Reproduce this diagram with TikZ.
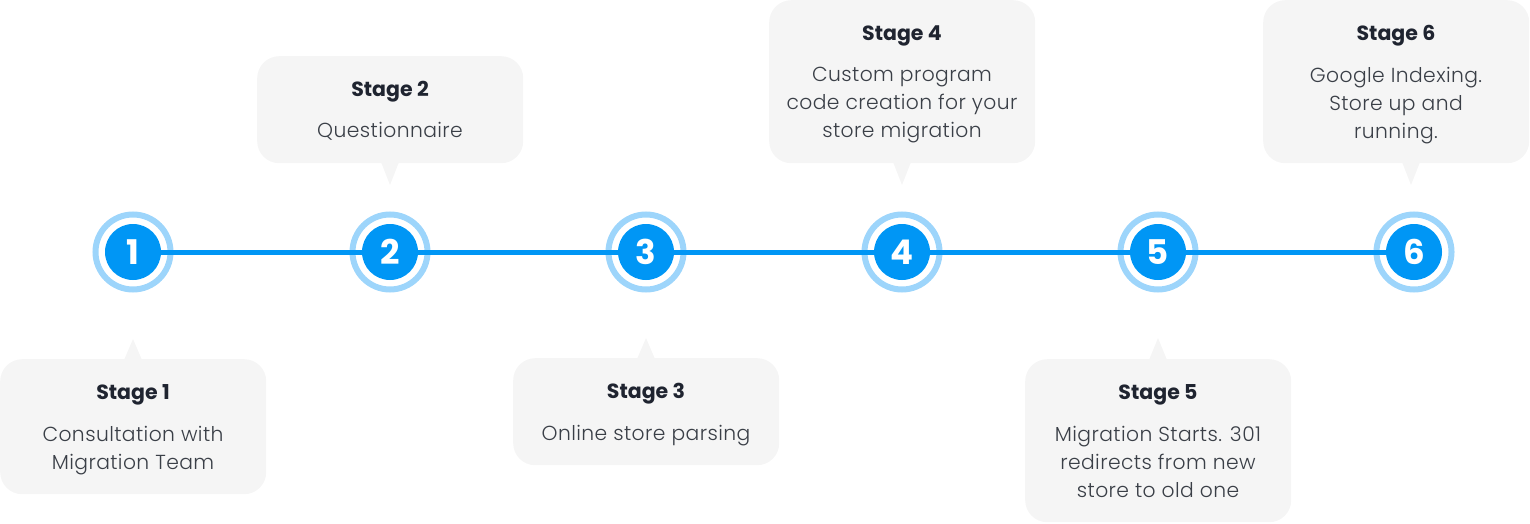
\documentclass[tikz,border=0pt]{standalone}
\usepackage{fontspec}
\setmainfont{Poppins}[UprightFont=* Light, BoldFont=* Bold]
\newfontfamily\bodyfont{Poppins}[UprightFont=* Light, LetterSpace=2]
\newfontfamily\numfont{Poppins}[UprightFont=* Bold]
\definecolor{boxbg}{HTML}{F5F5F5}
\definecolor{ttl}{HTML}{1F2430}
\definecolor{bodytxt}{HTML}{3A3F47}
\definecolor{mainblue}{HTML}{0096F5}
\definecolor{ringblue}{HTML}{9DD5FB}
\tikzset{
  bubble/.style={fill=boxbg, rounded corners=22pt, minimum width=266pt, inner sep=0pt, draw=none},
  ttlnode/.style={font=\fontsize{20.5}{24}\selectfont\bfseries, text=ttl, inner sep=0pt},
  bodynode/.style={font=\bodyfont\fontsize{20.3}{28}\selectfont, text=bodytxt, align=center, inner sep=0pt, anchor=north},
  ring/.style={draw=ringblue, line width=6pt, circle, minimum size=75pt, inner sep=0pt},
  dot/.style={fill=mainblue, circle, minimum size=56pt, inner sep=0pt, text=white, font=\fontsize{34}{34}\numfont},
  tline/.style={draw=mainblue, line width=5pt}
}
\begin{document}
\begin{tikzpicture}[x=1pt,y=-1pt]
\useasboundingbox (0,0) rectangle (1530,524);
% bubbles
\node[bubble, minimum height=135pt, anchor=north west] (b1) at (0,359) {};
\node[bubble, minimum height=107pt, anchor=north west] (b2) at (257,56) {};
\node[bubble, minimum height=107pt, anchor=north west] (b3) at (513,358) {};
\node[bubble, minimum height=163pt, anchor=north west] (b4) at (769,0) {};
\node[bubble, minimum height=163pt, anchor=north west] (b5) at (1025,359) {};
\node[bubble, minimum height=163pt, anchor=north west] (b6) at (1263,0) {};
% pointers
\coordinate (p1) at (133,339);
\coordinate (p2) at (390,185);
\coordinate (p3) at (646,338);
\coordinate (p4) at (902,185);
\coordinate (p5) at (1158,338);
\coordinate (p6) at (1411,185);
\fill[boxbg] (p1) -- ++(-9,21) -- ++(18,0) -- cycle;
\fill[boxbg] (p2) -- ++(-9,-23) -- ++(18,0) -- cycle;
\fill[boxbg] (p3) -- ++(-9,21) -- ++(18,0) -- cycle;
\fill[boxbg] (p4) -- ++(-9,-23) -- ++(18,0) -- cycle;
\fill[boxbg] (p5) -- ++(-9,22) -- ++(18,0) -- cycle;
\fill[boxbg] (p6) -- ++(-9,-23) -- ++(18,0) -- cycle;
% texts
\node[ttlnode] (t1) at (133,395) {Stage 1};
\node[bodynode] (d1) at (133,426) {Consultation with\\Migration Team};
\node[ttlnode] (t2) at (390,92) {Stage 2};
\node[bodynode] (d2) at (390,122) {Questionnaire};
\node[ttlnode] (t3) at (646,394) {Stage 3};
\node[bodynode] (d3) at (646,425) {Online store parsing};
\node[ttlnode] (t4) at (902,36) {Stage 4};
\node[bodynode] (d4) at (902,67) {Custom program\\code creation for your\\store migration};
\node[ttlnode] (t5) at (1158,395) {Stage 5};
\node[bodynode] (d5) at (1158,426) {Migration Starts. 301\\redirects from new\\store to old one};
\node[ttlnode] (t6) at (1396,36) {Stage 6};
\node[bodynode] (d6) at (1396,67) {Google Indexing.\\Store up and\\running.};
% timeline
\foreach \i/\x in {1/133,2/390,3/646,4/902,5/1158,6/1414} {
  \node[ring] (r\i) at (\x,252) {};
}
\draw[tline] (r1.center) -- (r2.center) -- (r3.center) -- (r4.center) -- (r5.center) -- (r6.center);
\foreach \i/\x in {1/133,2/390,3/646,4/902,5/1158,6/1414} {
  \node[dot] (c\i) at (\x,252) {\i};
}
\end{tikzpicture}
\end{document}
